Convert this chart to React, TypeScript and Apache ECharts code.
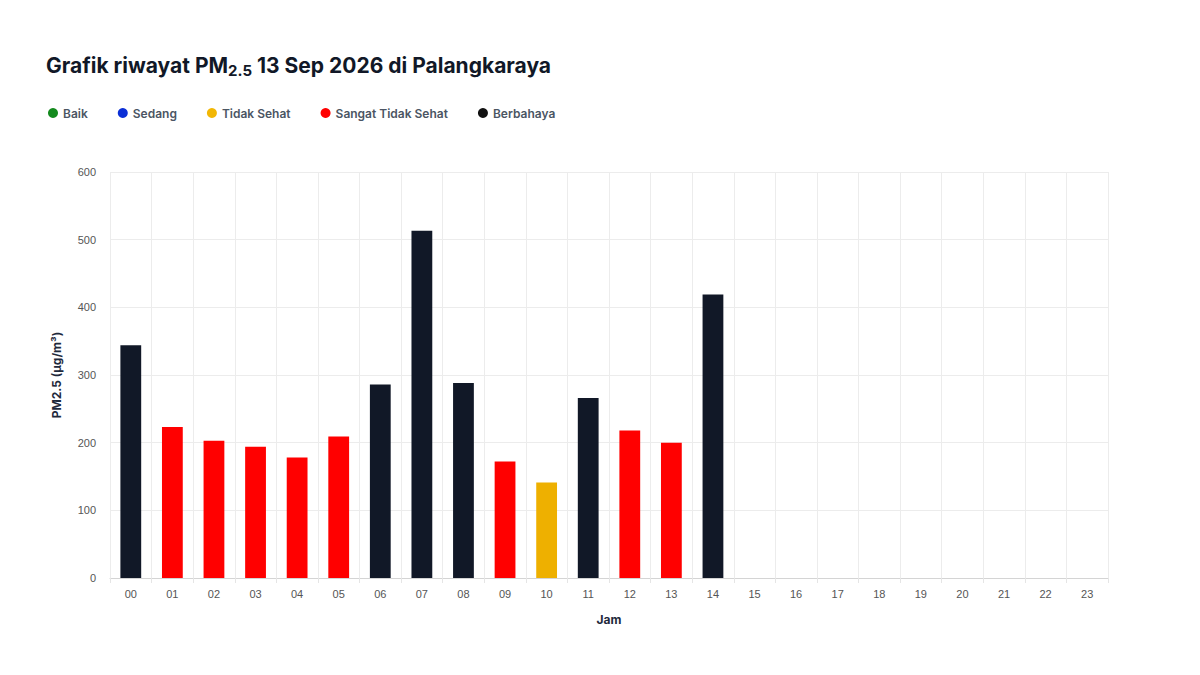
import React, { useEffect, useRef } from 'react';
import * as echarts from 'echarts';

const hours = [
  '00', '01', '02', '03', '04', '05', '06', '07', '08', '09', '10', '11',
  '12', '13', '14', '15', '16', '17', '18', '19', '20', '21', '22', '23',
];

// PM2.5 per jam, null = belum ada data
const pm25 = [
  344, 223, 203, 194, 178, 209, 286, 513, 288, 172, 141, 266,
  218, 200, 419, null, null, null, null, null, null, null, null, null,
];

// kategori per jam (index ke categories)
const levelOf = [4, 3, 3, 3, 3, 3, 4, 4, 4, 3, 2, 4, 3, 3, 4];

const categories = ['Baik', 'Sedang', 'Tidak Sehat', 'Sangat Tidak Sehat', 'Berbahaya'];
const legendColors = ['#148a1e', '#0b2fd6', '#f2b705', '#ff0000', '#111111'];
const barColors = ['#148a1e', '#0b2fd6', '#eeb000', '#ff0000', '#111827'];

const yTicks = [0, 100, 200, 300, 400, 500, 600];

const App: React.FC = () => {
  const chartRef = useRef<HTMLDivElement>(null);

  useEffect(() => {
    const chart = echarts.init(chartRef.current, null, { renderer: 'svg' });

    const series = categories.map((name, c) => ({
      name,
      type: 'bar',
      stack: 'pm',
      barWidth: '50%',
      itemStyle: { color: barColors[c] },
      data: pm25.map((v, i) => (v !== null && levelOf[i] === c ? v : '-')),
    }));

    const option = {
      animation: false,
      backgroundColor: '#ffffff',
      color: legendColors,
      title: {
        left: 46,
        top: 53,
        padding: 0,
        text: '{a|Grafik riwayat PM}{sub|2.5}{a| 13 Sep 2026 di Palangkaraya}',
        textStyle: {
          rich: {
            a: { fontFamily: 'Inter', fontWeight: 700, fontSize: 21, color: '#111827' },
            sub: { fontFamily: 'Inter', fontWeight: 700, fontSize: 15, color: '#111827', padding: [10, 0, 0, 0] },
          },
        },
      },
      legend: {
        left: 48,
        top: 107,
        padding: 0,
        icon: 'circle',
        itemWidth: 10,
        itemHeight: 10,
        itemGap: 30,
        data: categories.map((name, c) => ({ name, itemStyle: { color: legendColors[c] } })),
        textStyle: { fontFamily: 'Inter', fontWeight: 600, fontSize: 12, color: '#4b5563' },
      },
      grid: { left: 110, right: 92, top: 172, bottom: 97 },
      xAxis: {
        type: 'category',
        data: hours,
        name: 'Jam',
        nameLocation: 'middle',
        nameGap: 35,
        nameTextStyle: { fontFamily: 'Inter', fontWeight: 700, fontSize: 12, color: '#1e293b' },
        axisLine: { lineStyle: { color: '#d4d4d4' } },
        axisTick: { show: true, length: 5, lineStyle: { color: '#e5e5e5' } },
        axisLabel: { margin: 10, fontFamily: 'Liberation Sans', fontSize: 11, color: '#555555' },
        splitLine: { show: true, lineStyle: { color: '#ececec' } },
      },
      yAxis: {
        type: 'value',
        min: 0,
        max: 600,
        interval: 100,
        name: 'PM2.5 (µg/m³)',
        nameLocation: 'middle',
        nameGap: 48,
        nameTextStyle: { fontFamily: 'Inter', fontWeight: 700, fontSize: 12, color: '#1e293b' },
        axisLine: { show: false },
        axisTick: { show: false },
        axisLabel: {
          margin: 14,
          fontFamily: 'Liberation Sans',
          fontSize: 11,
          color: '#555555',
          formatter: (v: number) => (yTicks.includes(v) ? String(v) : ''),
        },
        splitLine: { lineStyle: { color: '#ececec' } },
      },
      series,
    };

    chart.setOption(option);

    return () => {
      chart.dispose();
    };
  }, []);

  return (
    <div
      ref={chartRef}
      style={{ position: 'fixed', left: 0, top: 0, width: '1200px', height: '675px' }}
    />
  );
};

export default App;
